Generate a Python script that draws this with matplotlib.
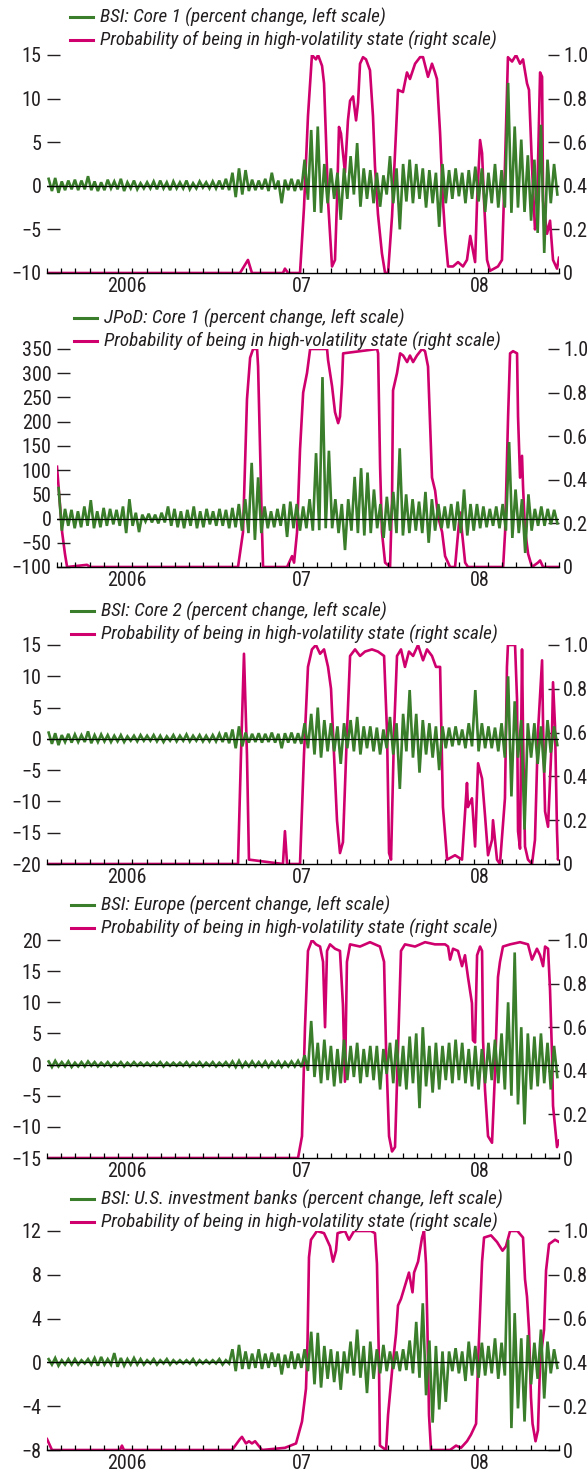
import numpy as np
import matplotlib
matplotlib.use("Agg")
import matplotlib.pyplot as plt
from matplotlib import font_manager as fm
from matplotlib.ticker import FixedLocator, FixedFormatter, NullFormatter
from matplotlib.lines import Line2D

# ---- pick a condensed sans if one is installed ----
_entries = fm.fontManager.ttflist
def _has(name, stretch=None):
    return any(f.name == name and (stretch is None or str(f.stretch) == stretch) for f in _entries)

FAMILY, STRETCH, CONDENSED = 'Liberation Sans', 'normal', False
for name, st in (('Roboto Condensed', None), ('Liberation Sans Narrow', None),
                 ('Open Sans Condensed', None), ('DejaVu Sans', 'condensed'),
                 ('Roboto', 'condensed'), ('Open Sans', 'condensed')):
    if _has(name, st):
        FAMILY, STRETCH, CONDENSED = name, (st or 'normal'), True
        break
plt.rcParams['font.family'] = [FAMILY, 'DejaVu Sans']
plt.rcParams['font.stretch'] = STRETCH
TICK_FS = 14.5 if CONDENSED else 13
LEG_FS = 13.8 if CONDENSED else 12

GREEN = '#3A7D2B'
MAGENTA = '#CF006E'
TEXT = '#231F20'

# time axis: months since Jan 2006 (0..36)
year_labels = ['2006', '07', '08']
year_label_pos = [5.6, 17.9, 30.4]
n_weeks = 156
week_t = (np.arange(n_weeks) + 0.5) * 36.0 / n_weeks
# JPoD series starts a little later (early Jan 2006 + ~3 weeks)
jpod_start = 0.70
jpod_week_t = jpod_start + (np.arange(n_weeks) + 0.5) * (36.0 - jpod_start) / n_weeks

prob_label = 'Probability of being in high-volatility state (right scale)'

# ---------------- Panel 1: BSI Core 1 ----------------
core1_label = 'BSI: Core 1 (percent change, left scale)'
core1_bsi = [0.8,-0.6,0.9,-0.8,0.5,-0.5,0.6,-0.4,0.7,-0.5,
             0.6,-0.4,1.1,-0.5,0.5,-0.6,0.4,-0.5,0.7,-0.3,
             0.5,-0.4,0.8,-0.6,0.4,-0.3,0.6,-0.4,0.3,-0.3,
             0.4,-0.3,0.5,-0.4,0.6,-0.3,0.4,-0.5,0.5,-0.3,
             0.4,-0.3,0.6,-0.4,0.3,-0.3,0.5,-0.2,0.4,-0.3,
             0.5,-0.3,0.6,-0.4,0.8,-0.5,1.5,-1.3,2.0,-1.0,
             1.8,-0.6,0.7,-0.5,0.6,-0.4,0.8,-0.6,1.5,-0.4,
             0.6,-2.0,0.7,-0.5,0.8,-0.6,0.7,-0.5,3.0,-1.6,
             6.4,-3.0,6.8,-3.1,2.5,-2.0,2.0,-1.5,1.5,-3.9,
             2.0,-1.5,3.4,-1.0,4.9,-2.4,2.0,-1.5,1.8,-2.0,
             1.5,-2.4,1.2,-1.0,3.4,-2.0,2.0,-5.0,2.5,-1.8,
             3.0,-2.0,2.5,-1.5,2.0,-2.5,1.8,-2.0,1.5,-4.7,
             2.5,-2.0,1.8,-1.5,2.0,-1.2,1.5,-2.0,1.8,-1.5,
             2.2,-1.8,2.0,-3.0,1.5,-2.0,2.5,-2.5,1.8,-2.5,
             11.8,-3.1,6.8,-2.5,5.3,-3.0,3.5,-4.0,3.0,-5.4,
             7.0,-7.7,3.0,-2.0,2.5,-1.0]
core1_prob_t = [0.00,13.57,14.13,14.41,16.59,16.73,16.95,17.79,18.07,18.35,
                18.63,18.91,19.06,19.34,19.48,19.62,19.76,19.90,20.04,20.25,
                20.39,20.53,20.67,20.81,20.95,21.16,21.31,21.52,21.73,21.87,
                22.01,22.22,22.43,22.71,22.92,23.06,23.27,23.55,23.77,23.98,
                24.26,24.47,24.68,25.03,25.31,25.52,25.88,26.23,26.44,26.79,
                27.07,27.28,27.42,27.64,27.84,27.99,28.20,28.55,28.90,29.25,
                29.53,29.76,29.90,30.10,30.24,30.45,30.59,30.73,30.94,31.15,
                31.71,31.99,32.20,32.41,32.70,32.98,33.26,33.47,33.75,33.89,
                34.10,34.31,34.46,34.52,34.67,34.81,34.88,35.16,35.37,35.58,
                35.86,36.00]
core1_prob = [0.0,0.0,0.06,0.0,0.0,0.02,0.0,0.0,0.3,0.72,
              1.0,0.98,1.0,0.95,0.87,0.61,0.33,0.18,0.03,0.06,
              0.33,0.67,0.64,0.55,0.46,0.7,0.79,0.81,0.70,0.78,
              0.96,0.99,0.98,0.93,0.72,0.49,0.27,0.09,0.0,0.0,
              0.26,0.55,0.84,0.83,0.92,0.89,0.96,0.99,0.99,0.90,
              0.96,0.92,0.89,0.64,0.33,0.18,0.03,0.03,0.05,0.03,
              0.06,0.17,0.12,0.05,0.33,0.61,0.55,0.33,0.06,0.01,
              0.03,0.06,0.49,0.99,0.97,1.0,0.96,0.98,0.87,0.84,
              0.49,0.20,0.24,0.49,0.92,0.90,0.33,0.18,0.24,0.06,
              0.02,0.07]

# ---------------- Panel 2: JPoD Core 1 ----------------
jpod_label = 'JPoD: Core 1 (percent change, left scale)'
jpod = [63,-25,20,-15,18,-20,15,-18,25,-15,
        38,-20,15,-18,22,-15,20,-12,18,-15,
        25,-30,40,-15,12,-28,8,-6,10,-8,
        8,-10,12,-8,25,-15,20,-18,15,-20,
        18,-15,25,-20,15,-18,20,-12,15,-15,
        20,-15,18,-20,22,-18,30,-25,40,-30,
        115,-44,85,-30,25,-20,15,-18,20,-15,
        30,-38,35,-20,30,-25,25,-20,40,-25,
        135,-24,292,-20,140,-20,40,-30,30,-65,
        40,-25,86,-30,104,-35,95,-30,60,-20,
        30,-40,45,-25,55,-30,145,-35,50,-30,
        40,-25,35,-30,55,-50,40,-25,30,-20,
        25,-20,30,-25,35,-30,60,-35,30,-25,
        30,-20,25,-18,20,-15,25,-20,30,-25,
        158,-40,60,-30,40,-71,50,-25,20,-15,
        25,-15,20,-12,18,-10]
jpod_prob_t = [0.70,1.06,1.26,1.41,2.81,3.03,13.43,13.78,14.06,14.28,
               14.49,14.77,14.84,14.98,15.12,15.19,16.88,17.23,17.37,17.58,
               17.79,18.01,18.28,18.50,19.69,19.76,20.04,20.25,20.47,20.60,
               20.74,20.82,23.21,23.28,23.42,23.55,23.77,24.12,24.26,24.33,
               24.61,24.83,25.04,25.32,25.52,25.74,26.01,26.37,26.58,26.79,
               27.07,27.29,27.50,27.78,27.99,28.34,28.69,28.91,29.04,29.18,
               29.40,29.60,32.07,32.21,32.42,32.56,32.77,33.05,33.12,33.26,
               33.40,33.47,33.61,33.83,34.10,34.52,34.67,34.88,36.00]
jpod_prob = [0.46,0.16,0.06,0.0,0.01,0.0,0.0,0.16,0.77,0.96,
             1.0,1.0,0.92,0.54,0.16,0.0,0.0,0.05,0.02,0.16,
             0.54,0.80,0.89,1.0,1.0,0.95,0.83,0.71,0.66,0.69,
             0.84,0.98,1.0,0.98,0.46,0.16,0.02,0.0,0.31,0.81,
             0.89,0.98,0.97,0.94,0.97,0.94,0.97,1.0,0.99,0.92,
             0.41,0.35,0.23,0.16,0.05,0.0,0.0,0.16,0.25,0.16,
             0.02,0.0,0.0,0.16,0.69,0.98,0.99,0.98,0.69,0.41,
             0.51,0.37,0.17,0.06,0.0,0.02,0.03,0.0,0.0]

# ---------------- Panel 3: BSI Core 2 ----------------
core2_label = 'BSI: Core 2 (percent change, left scale)'
core2_bsi = [1.0,-0.8,0.9,-1.0,0.6,-0.5,0.8,-0.6,0.7,-0.5,
             0.6,-0.5,1.2,-0.7,0.6,-0.5,0.7,-0.4,0.6,-0.5,
             0.5,-0.4,0.6,-0.5,0.4,-0.3,0.5,-0.4,0.6,-0.3,
             0.5,-0.3,0.6,-0.4,0.5,-0.5,0.4,-0.3,0.6,-0.4,
             0.5,-0.3,0.7,-0.4,0.5,-0.3,0.6,-0.4,0.5,-0.4,
             0.6,-0.4,0.8,-0.5,1.0,-0.7,1.5,-1.5,2.0,-1.2,
             1.0,-0.6,0.8,-0.5,0.9,-0.6,0.8,-0.5,1.0,-0.6,
             0.8,-1.5,0.9,-0.6,1.0,-0.7,0.9,-0.8,2.5,-1.5,
             4.0,-2.5,5.0,-3.0,3.0,-2.0,2.5,-2.0,2.0,-4.0,
             2.5,-1.5,3.0,-2.0,3.5,-2.5,2.0,-1.5,2.0,-2.0,
             1.8,-2.5,1.5,-1.5,3.5,-2.5,2.5,-8.0,4.0,-2.0,
             7.8,-3.0,4.0,-5.4,3.0,-2.5,2.5,-3.0,2.0,-5.0,
             2.0,-1.5,1.8,-1.2,2.0,-1.0,1.5,-1.5,2.5,-1.2,
             7.8,-2.0,2.5,-1.5,2.0,-1.5,1.8,-2.0,2.5,-3.0,
             10.0,-9.2,6.0,-3.0,3.0,-14.5,2.5,-3.0,2.5,-4.0,
             2.0,-5.4,3.0,-2.2,2.0,-1.0]
core2_prob_t = [0.00,13.22,13.43,13.64,13.85,14.06,14.20,16.59,16.73,16.88,
                17.79,18.07,18.35,18.63,18.91,19.20,19.48,19.76,19.97,20.18,
                20.39,20.60,20.81,21.09,21.31,21.66,22.01,22.36,22.85,23.27,
                23.70,23.91,24.05,24.19,24.40,24.61,24.89,25.17,25.45,25.74,
                26.09,26.44,26.72,27.07,27.35,27.64,27.77,27.84,28.13,28.69,
                29.18,29.53,29.60,29.88,30.10,30.31,30.59,30.80,31.01,31.29,
                31.36,31.64,31.85,32.20,32.34,32.41,32.91,33.05,33.12,33.26,
                33.40,33.47,33.61,33.82,34.10,34.31,34.52,34.81,34.88,35.02,
                35.23,35.51,35.58,35.72,35.86,35.93,36.00]
core2_prob = [0.0,0.0,0.0,0.5,0.96,0.5,0.02,0.0,0.15,0.0,
              0.0,0.5,0.9,0.98,1.0,0.96,0.98,0.9,0.8,0.5,
              0.2,0.05,0.1,0.6,0.95,0.98,0.95,0.97,0.98,0.97,
              0.95,0.6,0.05,0.02,0.6,0.95,0.98,0.9,0.97,0.95,
              1.0,0.93,0.98,0.95,0.9,0.9,0.48,0.26,0.02,0.04,
              0.02,0.37,0.26,0.3,0.08,0.46,0.39,0.22,0.04,0.11,
              0.2,0.02,0.0,0.3,0.9,1.0,1.0,0.75,0.15,0.07,
              0.98,0.6,0.08,0.02,0.0,0.11,0.6,0.93,0.63,0.24,
              0.17,0.6,0.83,0.63,0.15,0.02,0.05]

# ---------------- Panel 4: BSI Europe ----------------
europe_label = 'BSI: Europe (percent change, left scale)'
europe_bsi = [0.5,-0.4,0.6,-0.3,0.4,-0.3,0.5,-0.4,0.3,-0.3,
              0.4,-0.3,0.5,-0.2,0.4,-0.3,0.3,-0.2,0.4,-0.3,
              0.3,-0.2,0.4,-0.3,0.3,-0.2,0.4,-0.2,0.3,-0.2,
              0.3,-0.2,0.3,-0.2,0.4,-0.3,0.3,-0.2,0.3,-0.2,
              0.3,-0.2,0.4,-0.3,0.3,-0.2,0.4,-0.3,0.3,-0.2,
              0.4,-0.3,0.3,-0.2,0.4,-0.3,0.5,-0.4,0.6,-0.4,
              0.4,-0.3,0.5,-0.3,0.4,-0.3,0.5,-0.4,0.4,-0.3,
              0.5,-0.4,0.4,-0.3,0.5,-0.3,0.6,-0.4,1.5,-1.0,
              7.0,-2.0,3.5,-3.0,4.0,-2.5,3.0,-3.5,2.5,-3.0,
              4.0,-2.5,3.0,-2.0,3.5,-3.0,2.5,-2.0,3.0,-2.5,
              3.0,-4.0,2.5,-1.5,3.5,-3.0,4.0,-3.5,3.0,-4.0,
              4.5,-3.0,5.0,-7.0,6.0,-3.5,3.0,-4.5,3.5,-4.0,
              3.0,-2.5,3.5,-3.0,4.0,-2.5,3.5,-3.0,2.5,-3.5,
              3.0,-4.0,2.5,-3.0,3.5,-2.5,4.0,-3.0,5.0,-4.0,
              10.0,-5.0,18.0,-6.4,6.0,-9.6,5.0,-4.0,4.5,-3.5,
              5.0,-3.0,3.5,-4.0,3.0,-2.0]
europe_prob_t = [0.00,17.65,17.93,18.14,18.35,18.63,18.91,19.20,19.41,19.55,
                 19.69,19.90,20.25,20.60,20.81,20.95,21.09,21.31,22.01,22.71,
                 23.41,23.70,23.84,24.05,24.26,24.47,24.68,24.89,25.17,25.88,
                 26.58,27.28,27.99,28.20,28.34,28.55,28.90,29.18,29.39,29.60,
                 29.88,29.95,30.10,30.24,30.45,30.59,30.66,30.80,31.01,31.29,
                 31.50,31.71,31.85,32.06,32.56,33.26,33.82,34.10,34.45,34.67,
                 34.88,35.02,35.23,35.37,35.51,35.58,35.86,36.00]
europe_prob = [0.0,0.0,0.1,0.6,0.95,1.0,0.98,0.97,0.9,0.6,
               0.95,0.98,0.96,0.95,0.7,0.35,0.9,0.98,0.97,0.99,
               0.97,0.9,0.5,0.1,0.03,0.05,0.5,0.95,0.98,0.97,
               0.99,0.98,0.98,0.97,0.91,0.96,0.95,0.88,0.93,0.83,
               0.71,0.54,0.53,0.93,0.97,0.95,0.54,0.31,0.1,0.07,
               0.39,0.83,0.9,0.97,0.98,0.99,0.98,0.91,0.96,0.93,
               0.88,0.97,0.96,0.77,0.47,0.24,0.05,0.08]

# ---------------- Panel 5: BSI U.S. investment banks ----------------
usib_label = 'BSI: U.S. investment banks (percent change, left scale)'
usib_bsi = [0.3,-0.2,0.4,-0.3,0.2,-0.2,0.3,-0.2,0.3,-0.2,
            0.2,-0.1,0.3,-0.2,0.4,-0.3,0.5,-0.2,0.3,-0.2,
            0.85,-0.4,0.4,-0.3,0.3,-0.2,0.4,-0.2,0.3,-0.2,
            0.2,-0.1,0.3,-0.2,0.2,-0.1,0.3,-0.2,0.2,-0.1,
            0.2,-0.1,0.2,-0.1,0.3,-0.2,0.2,-0.1,0.2,-0.1,
            0.2,-0.1,0.3,-0.2,0.2,-0.1,1.2,-0.8,1.6,-0.6,
            1.0,-0.6,0.8,-0.5,1.2,-0.6,0.8,-0.5,0.9,-0.4,
            0.8,-1.1,0.7,-0.5,1.0,-0.6,0.8,-0.5,1.2,-0.8,
            2.8,-2.0,2.7,-2.3,1.5,-1.5,1.2,-1.8,1.0,-2.5,
            1.0,-1.0,1.9,-1.2,3.0,-1.4,1.5,-2.8,1.9,-1.5,
            1.2,-1.0,1.6,-0.8,1.0,-0.6,1.0,-0.8,1.2,-0.7,
            2.0,-1.0,3.7,-1.4,5.4,-3.0,2.0,-5.5,1.5,-4.3,
            1.0,-3.6,1.0,-0.8,1.3,-1.0,1.0,-1.7,1.9,-1.2,
            1.5,-1.4,1.8,-1.2,1.5,-1.0,2.2,-1.5,1.8,-1.2,
            11.2,-6.0,4.5,-4.2,2.2,-5.4,2.5,-2.0,1.8,-1.5,
            3.0,-3.3,1.9,-1.0,1.2,-0.5]
usib_prob_t = [0.00,0.35,5.13,5.27,5.41,13.01,13.57,13.71,13.99,14.20,
               14.41,14.63,15.12,16.73,17.51,17.93,18.21,18.32,18.42,18.56,
               18.98,19.48,19.90,20.11,20.32,20.43,20.95,21.23,21.59,22.78,
               23.06,23.20,23.34,23.41,23.84,23.98,24.26,24.54,24.68,24.89,
               25.31,25.45,25.70,25.81,26.09,26.37,26.51,26.65,26.75,26.86,
               27.00,28.34,28.76,29.11,29.53,29.81,30.17,30.31,30.59,30.73,
               31.22,31.64,32.03,32.27,32.56,33.08,33.47,33.61,33.75,33.89,
               34.03,34.14,34.35,34.52,34.67,34.95,35.09,35.30,35.72,36.00]
usib_prob = [0.05,0.0,0.0,0.02,0.0,0.0,0.05,0.06,0.03,0.04,
             0.03,0.04,0.0,0.01,0.03,0.13,0.28,0.5,0.88,0.96,
             1.0,0.99,0.93,0.86,0.91,0.99,1.0,0.96,1.0,1.0,
             0.99,0.85,0.4,0.02,0.0,0.16,0.36,0.53,0.66,0.69,
             0.78,0.81,0.72,0.81,0.86,0.97,1.0,0.85,0.55,0.16,
             0.0,0.0,0.02,0.01,0.04,0.07,0.12,0.4,0.86,0.97,
             0.98,0.95,0.91,0.93,1.0,1.0,0.97,0.78,0.7,0.55,
             0.24,0.12,0.04,0.09,0.4,0.55,0.82,0.94,0.96,0.95]

panels = [
    dict(label=core1_label, t=week_t, bsi=core1_bsi, pt=core1_prob_t, p=core1_prob,
         xlim=(0, 36), ylim=(-10, 15), yticks=[-10, -5, 0, 5, 10, 15],
         box=(47, 55, 559, 273), leg=(17, 40, 70)),
    dict(label=jpod_label, t=jpod_week_t, bsi=jpod, pt=jpod_prob_t, p=jpod_prob,
         xlim=(jpod_start, 36), ylim=(-100, 350),
         yticks=[-100, -50, 0, 50, 100, 150, 200, 250, 300, 350],
         box=(57, 349, 559, 567), leg=(318, 341, 74)),
    dict(label=core2_label, t=week_t, bsi=core2_bsi, pt=core2_prob_t, p=core2_prob,
         xlim=(0, 36), ylim=(-20, 15), yticks=[-20, -15, -10, -5, 0, 5, 10, 15],
         box=(47, 645, 559, 864), leg=(611, 634, 71)),
    dict(label=europe_label, t=week_t, bsi=europe_bsi, pt=europe_prob_t, p=europe_prob,
         xlim=(0, 36), ylim=(-15, 20), yticks=[-15, -10, -5, 0, 5, 10, 15, 20],
         box=(47, 940, 559, 1158), leg=(905, 928, 71)),
    dict(label=usib_label, t=week_t, bsi=usib_bsi, pt=usib_prob_t, p=usib_prob,
         xlim=(0, 36), ylim=(-8, 12), yticks=[-8, -4, 0, 4, 8, 12],
         box=(47, 1231, 559, 1450), leg=(1199, 1222, 71)),
]

W, H = 588, 1478
fig = plt.figure(figsize=(W / 100, H / 100), dpi=100)

right_ticks = [0, 0.2, 0.4, 0.6, 0.8, 1.0]
right_labels = ['0', '0.2', '0.4', '0.6', '0.8', '1.0']

for pnl in panels:
    x0, y0, x1, y1 = pnl['box']
    ax = fig.add_axes([x0 / W, 1 - y1 / H, (x1 - x0) / W, (y1 - y0) / H])
    ax2 = ax.twinx()
    ax.set_zorder(ax2.get_zorder() + 1)
    ax.patch.set_visible(False)

    ax2.plot(pnl['pt'], pnl['p'], color=MAGENTA, lw=1.9, solid_joinstyle='round', zorder=2)
    ax.plot(pnl['t'], pnl['bsi'], color=GREEN, lw=1.9, solid_joinstyle='miter', zorder=3)
    ax.axhline(0, color='black', lw=0.9, zorder=4)

    ax.set_xlim(*pnl['xlim'])
    ax.set_ylim(*pnl['ylim'])
    ax2.set_ylim(0, 1)

    for a in (ax, ax2):
        for s in ('top', 'left', 'right'):
            a.spines[s].set_visible(False)
    ax.spines['bottom'].set_color('black')
    ax.spines['bottom'].set_linewidth(1.0)
    ax2.spines['bottom'].set_visible(False)

    ax.set_yticks(pnl['yticks'])
    ax.tick_params(axis='y', direction='in', length=9, width=1.0, pad=4,
                   labelsize=TICK_FS, colors=TEXT)
    ax2.set_yticks(right_ticks)
    ax2.set_yticklabels(right_labels)
    ax2.tick_params(axis='y', direction='in', length=8, width=1.0, pad=3,
                    labelsize=TICK_FS, colors=TEXT)

    # year labels (major, no tick mark) and monthly tick marks (minor)
    lo = pnl['xlim'][0]
    ax.xaxis.remove_overlapping_locs = False
    ax.xaxis.set_major_locator(FixedLocator(year_label_pos))
    ax.xaxis.set_major_formatter(FixedFormatter(year_labels))
    ax.xaxis.set_minor_locator(FixedLocator([lo] + [m for m in range(1, 37) if m > lo]))
    ax.xaxis.set_minor_formatter(NullFormatter())
    ax.tick_params(axis='x', which='major', length=0, pad=3, labelsize=TICK_FS,
                   labelcolor=TEXT)
    ax.tick_params(axis='x', which='minor', direction='in', length=3.5, width=0.9,
                   color='black')

    # legend (drawn above the plotting area)
    r1, r2, lx = pnl['leg']
    for yy, col, txt in ((r1, GREEN, pnl['label']), (r2, MAGENTA, prob_label)):
        fy = 1 - yy / H
        fig.add_artist(Line2D([lx / W, (lx + 23) / W], [fy, fy], color=col, lw=2.2,
                              transform=fig.transFigure))
        fig.text((lx + 30) / W, fy, txt, fontsize=LEG_FS, style='italic', color=TEXT,
                 va='center', ha='left')

fig.savefig('out.png', dpi=100)
